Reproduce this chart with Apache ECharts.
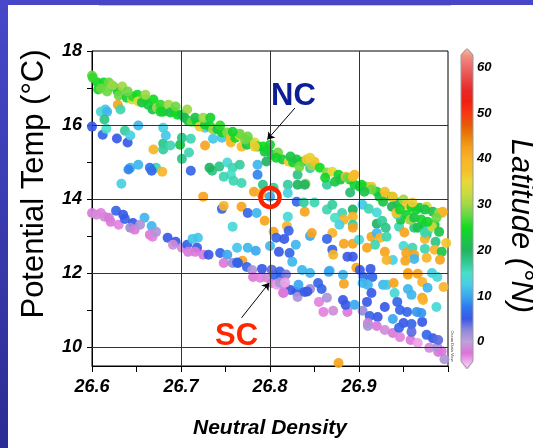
<!DOCTYPE html>
<html>
<head>
<meta charset="utf-8">
<script src="https://cdn.jsdelivr.net/npm/echarts@6/dist/echarts.min.js"></script>
<style>
  html, body { margin: 0; padding: 0; }
  body { width: 533px; height: 448px; position: relative; overflow: hidden; background: #ffffff; }
  #frameTop { position: absolute; left: 0; top: 0; width: 533px; height: 5px; background: #4646c6; }
  #frameLeft { position: absolute; left: 0; top: 0; width: 8px; height: 448px; background: linear-gradient(#4848ca, #2c2c94); }
  #rule { position: absolute; left: 99px; top: 5px; width: 352px; height: 1px; background: #c4c4ee; }
  #chart { position: absolute; left: 0; top: 0; width: 533px; height: 448px; }
</style>
</head>
<body>
<div id="frameTop"></div>
<div id="frameLeft"></div>
<div id="rule"></div>
<div id="chart"></div>
<script>
// Each sample: [neutral density, potential temperature (°C), latitude (°N)]

// Upper (northern-source) band
const ncBand = [
  [26.600,17.34,28],[26.606,17.15,24],[26.613,17.15,25],[26.619,17.15,28],[26.607,16.96,24],
  [26.617,16.91,28],[26.624,17.04,24],[26.629,16.91,24],[26.634,17.04,30],[26.630,16.80,28],
  [26.639,16.74,24],[26.645,16.69,33],[26.646,16.77,26],[26.651,16.82,25],[26.652,16.64,34],
  [26.656,16.61,22],[26.660,16.69,24],[26.663,16.55,23],[26.669,16.69,25],[26.668,16.42,22],
  [26.673,16.47,30],[26.677,16.55,26],[26.680,16.36,22],[26.686,16.55,30],[26.688,16.34,22],
  [26.692,16.36,24],[26.696,16.28,25],[26.701,16.28,22],[26.707,16.42,30],[26.704,16.20,20],
  [26.708,16.12,22],[26.712,16.09,28],[26.718,16.07,24],[26.721,15.96,36],[26.727,16.01,23],
  [26.733,15.96,24],[26.736,15.88,30],[26.741,15.88,22],[26.746,15.80,24],[26.752,15.80,29],
  [26.756,15.64,38],[26.761,15.66,25],[26.766,15.72,35],[26.774,15.47,22],[26.777,15.55,26],
  [26.783,15.53,34],[26.786,15.42,24],[26.792,15.42,25],[26.794,15.28,22],[26.766,15.77,28],
  [26.775,15.69,28],[26.783,15.42,36],[26.797,15.34,24],[26.802,15.20,22],[26.809,15.26,28],
  [26.814,15.07,23],[26.821,15.01,36],[26.826,14.99,24],[26.830,15.07,22],[26.836,15.01,24],
  [26.841,15.07,37],[26.847,14.91,30],[26.850,15.01,38],[26.856,14.85,25],[26.864,14.72,29],
  [26.870,14.74,35],[26.877,14.66,24],[26.879,14.53,22],[26.885,14.61,38],[26.890,14.53,23],
  [26.895,14.66,40],[26.895,14.39,24],[26.901,14.34,22],[26.909,14.34,30],[26.914,14.34,37],
  [26.920,14.20,24],[26.923,14.07,22],[26.931,14.09,36],[26.937,14.07,25],[26.943,13.91,22],
  [26.950,13.99,30],[26.954,13.85,37],[26.959,13.80,24],[26.968,13.77,22],[26.976,13.80,33],
  [26.983,13.66,22],[26.990,13.63,30],[26.994,13.66,40],[26.839,14.39,20],[26.890,14.18,19],
  [26.927,13.93,22],[26.942,13.63,37],[26.954,13.58,24],[26.958,13.45,30],[26.962,13.50,22],
  [26.970,13.45,24],[26.982,13.26,33],[26.987,13.50,28],[26.990,13.12,22],[26.887,14.58,28],
  [26.903,14.39,24],[26.914,14.26,28],[26.938,14.07,37],[26.929,14.20,38],[26.964,13.72,24],
  [26.974,13.72,22],[26.960,13.91,36],[26.893,14.61,38],[26.601,17.28,26],[26.610,16.99,28],
  [26.623,17.07,30],[26.640,16.91,28],[26.660,16.82,30],[26.677,16.36,24],[26.694,16.50,28],
  [26.716,16.20,22],[26.725,16.20,30],[26.744,15.99,26],[26.758,15.82,24],[26.772,15.61,28],
  [26.800,15.47,24],[26.807,15.12,24],[26.823,15.15,22],[26.833,14.88,28],[26.845,15.12,36],
  [26.862,14.58,24],[26.873,14.47,22],[26.906,14.20,22],[26.946,13.72,24],[26.977,13.39,24],
  [26.733,16.20,24]
];

// Lower (southern-source) band
const scBand = [
  [26.600,13.63,-2],[26.605,13.58,-1],[26.610,13.63,-3],[26.614,13.53,-1],[26.619,13.50,-2],
  [26.627,13.69,6],[26.621,13.39,-2],[26.630,13.31,-3],[26.637,13.47,6],[26.635,13.58,5],
  [26.646,13.36,5],[26.643,13.23,2],[26.648,13.18,-2],[26.659,13.50,11],[26.667,13.28,11],
  [26.654,13.31,1],[26.665,13.04,-2],[26.668,12.99,-3],[26.672,13.12,1],[26.685,12.96,5],
  [26.694,12.85,5],[26.691,12.77,-1],[26.701,12.69,-1],[26.707,12.77,6],[26.708,12.58,-2],
  [26.713,12.93,12],[26.719,12.96,12],[26.718,12.69,5],[26.716,12.58,-2],[26.725,12.50,-2],
  [26.731,12.50,5],[26.744,12.55,6],[26.752,12.50,10],[26.748,12.28,-2],[26.758,12.28,2],
  [26.764,12.28,5],[26.774,12.17,6],[26.780,12.09,1],[26.781,11.90,-2],[26.789,11.88,-3],
  [26.791,12.12,5],[26.797,11.88,-1],[26.802,11.74,-2],[26.808,11.69,-4],[26.812,11.90,5],
  [26.817,11.63,-1],[26.805,11.96,6],[26.823,11.55,5],[26.815,11.47,-2],[26.830,11.50,5],
  [26.831,11.36,1],[26.832,11.69,10],[26.839,11.50,5],[26.845,11.58,2],[26.854,11.74,6],
  [26.858,11.58,6],[26.855,11.23,-3],[26.864,11.34,1],[26.871,10.99,-1],[26.887,10.96,-2],
  [26.882,11.28,5],[26.885,11.15,5],[26.895,11.15,10],[26.904,10.99,2],[26.909,11.23,5],
  [26.912,10.85,6],[26.921,10.82,5],[26.910,10.66,-2],[26.920,10.58,-2],[26.929,10.47,-1],
  [26.938,10.39,-2],[26.946,10.28,-3],[26.958,10.20,-2],[26.966,10.12,-4],[26.979,9.99,-1],
  [26.989,9.88,-2],[26.988,10.01,1],[26.983,10.25,5],[26.989,10.20,4],[26.976,10.34,6],
  [26.950,10.66,5],[26.959,10.63,6],[26.971,10.69,5],[26.959,10.42,4],[26.945,10.53,6],
  [26.938,10.77,10],[26.929,11.09,5],[26.946,11.01,6],[26.954,10.96,6],[26.965,10.96,9],
  [26.970,10.93,9],[26.943,11.23,6],[26.996,9.68,1],[26.910,10.58,1],[26.860,10.96,-3],
  [26.763,12.29,6],[26.802,12.10,4],[26.811,12.05,6],[26.818,11.97,3],[26.811,11.75,1],
  [26.817,11.75,-4],[26.815,11.48,-2],[26.842,11.51,5],[26.993,9.90,-2]
];

// Scattered samples between the two bands
const interior = [
  [26.615,16.42,12],[26.610,16.36,14],[26.617,16.36,11],[26.629,16.55,42],[26.632,16.42,16],
  [26.614,16.15,18],[26.612,15.74,6],[26.616,15.90,15],[26.628,15.64,5],[26.640,15.53,5],
  [26.637,15.85,17],[26.643,15.72,13],[26.652,15.99,11],[26.669,15.34,40],[26.680,15.50,18],
  [26.680,15.34,17],[26.688,15.45,16],[26.683,15.72,12],[26.680,15.93,13],[26.699,15.47,22],
  [26.701,15.66,18],[26.701,15.09,18],[26.711,15.63,16],[26.709,15.26,16],[26.643,14.85,11],
  [26.652,14.93,11],[26.672,14.85,16],[26.667,14.77,6],[26.679,14.74,40],[26.711,14.77,6],
  [26.735,14.77,18],[26.743,14.88,18],[26.752,14.99,14],[26.758,14.85,16],[26.766,14.93,17],
  [26.756,14.66,15],[26.786,14.93,11],[26.786,14.66,8],[26.727,15.93,13],[26.736,15.63,12],
  [26.727,15.45,42],[26.756,15.53,40],[26.768,15.42,38],[26.746,15.66,12],[26.633,14.42,13],
  [26.641,14.80,8],[26.665,14.85,7],[26.732,14.85,20],[26.748,14.61,16],[26.759,14.50,16],
  [26.768,14.44,16],[26.792,14.39,18],[26.804,14.31,17],[26.820,14.39,17],[26.831,14.39,20],
  [26.820,14.17,13],[26.782,14.20,42],[26.790,14.15,40],[26.800,14.07,10],[26.725,14.07,42],
  [26.830,13.93,6],[26.839,13.66,42],[26.746,13.74,6],[26.748,13.82,40],[26.768,13.80,42],
  [26.775,13.63,6],[26.785,13.63,11],[26.794,13.42,42],[26.820,13.53,14],[26.819,13.28,40],
  [26.804,13.12,42],[26.758,13.26,14],[26.807,12.96,6],[26.816,12.93,5],[26.821,13.15,6],
  [26.775,12.69,11],[26.763,12.69,12],[26.800,12.74,11],[26.810,12.58,5],[26.822,12.55,6],
  [26.829,12.77,11],[26.784,12.61,10],[26.769,12.34,42],[26.838,13.91,17],[26.850,13.91,16],
  [26.864,13.72,16],[26.870,13.85,17],[26.893,13.72,20],[26.881,13.63,16],[26.873,13.50,15],
  [26.893,13.53,40],[26.883,13.45,40],[26.878,13.31,13],[26.893,13.31,17],[26.893,13.23,42],
  [26.904,13.85,12],[26.911,13.74,16],[26.920,13.34,20],[26.926,13.42,17],[26.930,13.23,18],
  [26.870,13.09,40],[26.864,12.93,6],[26.845,13.01,10],[26.847,13.09,42],[26.870,12.64,6],
  [26.871,12.50,40],[26.887,12.45,5],[26.893,12.45,5],[26.883,12.80,42],[26.893,12.80,42],
  [26.900,12.91,14],[26.914,12.99,42],[26.920,13.09,11],[26.924,12.96,40],[26.931,12.99,16],
  [26.918,12.77,16],[26.909,12.69,42],[26.945,13.26,16],[26.962,13.23,18],[26.973,13.28,22],
  [26.976,13.04,18],[26.985,13.31,22],[26.986,12.85,18],[26.974,12.93,40],[26.985,12.64,40],
  [26.950,12.74,14],[26.960,12.69,16],[26.953,12.55,42],[26.962,12.50,42],[26.974,12.66,16],
  [26.976,12.42,40],[26.962,12.39,11],[26.952,12.34,42],[26.938,12.36,13],[26.929,12.58,42],
  [26.931,12.36,40],[26.897,12.15,42],[26.901,12.09,5],[26.913,12.12,5],[26.905,11.90,6],
  [26.915,11.90,6],[26.910,11.69,11],[26.955,11.96,42],[26.966,11.99,42],[26.971,11.77,40],
  [26.982,12.01,13],[26.988,11.90,14],[26.867,12.07,11],[26.882,11.96,11],[26.845,12.01,11],
  [26.883,11.72,42],[26.825,12.31,11],[26.836,12.09,11],[26.866,12.04,10],[26.904,11.74,11],
  [26.914,11.47,5],[26.927,11.69,11],[26.931,11.69,12],[26.939,11.74,42],[26.940,11.47,14],
  [26.955,11.58,11],[26.959,11.42,11],[26.971,11.34,42],[26.977,11.61,11],[26.987,11.09,14],
  [26.877,9.58,42],[26.993,13.63,40],[26.998,12.82,37],[26.993,12.58,22],[26.947,13.45,22],
  [26.957,13.45,37],[26.966,13.23,22],[26.978,13.18,16],[26.955,12.01,42],[26.972,11.28,40],
  [26.995,11.63,40],[26.600,15.96,5],[26.920,13.64,14],[26.937,13.80,20],[26.943,13.59,16],
  [26.951,13.10,42],[26.974,13.10,16],[26.991,12.37,42],[26.796,15.02,20],[26.840,14.42,30],
  [26.864,14.39,17],[26.831,14.66,18],[26.845,14.84,17]
];

// Axis ticks and labels
const xTickValues = [26.6, 26.65, 26.7, 26.75, 26.8, 26.85, 26.9, 26.95, 27.0];
const xLabelValues = [26.6, 26.7, 26.8, 26.9];
const xGridValues = [26.7, 26.8, 26.9];
const yTickValues = [10, 11, 12, 13, 14, 15, 16, 17, 18];
const yLabelValues = [10, 12, 14, 16, 18];
const yGridValues = [10, 12, 14, 16];
const colorTicks = [0, 10, 20, 30, 40, 50, 60];

// Latitude colour scale (evenly spaced stops)
const latStops = [-5, -2.5, 0, 2.5, 5, 7.5, 10, 12.5, 15, 17.5, 20, 22.5, 25, 27.5, 30,
                  32.5, 35, 37.5, 40, 42.5, 45, 47.5, 50, 52.5, 55, 57.5, 60, 62.5, 65];
const latColors = ['#f0c4f0', '#e070da', '#c0a0d8', '#9088d8', '#3a58e6', '#2e78ee', '#3aa8f0',
                   '#48cce8', '#48e0c8', '#30c890', '#20b460', '#18c840', '#10dc20', '#60d840',
                   '#a0d848', '#c8dc40', '#e8d838', '#f4c028', '#f8b428', '#f5a01a', '#e88008',
                   '#e85808', '#f83810', '#f02010', '#e82828', '#e84848', '#ec6868', '#f09080',
                   '#f6b8a0'];

// Annotations
const ncArrow = [[26.828, 16.46], [26.797, 15.61]];
const scArrow = [[26.768, 10.80], [26.799, 11.74]];
const markerAt = [26.8, 14.05];

const cbMin = -6, cbMax = 64;
const cbStops = latStops.map((v, i) => ({
  offset: Math.min(1, Math.max(0, (v - cbMin) / (cbMax - cbMin))),
  color: latColors[i]
}));

const FONT = '"Liberation Sans", Arial, Helvetica, sans-serif';
const tickFont = { color: '#000', fontFamily: FONT, fontWeight: 'bold', fontStyle: 'italic' };

const chart = echarts.init(document.getElementById('chart'), null, { renderer: 'canvas' });

const dotStyle = { opacity: 0.92 };
const dotSize = 10;

chart.setOption({
  animation: false,
  backgroundColor: 'transparent',
  grid: [
    { left: 92, top: 51, width: 356, height: 315, show: true, borderColor: '#000', borderWidth: 1, backgroundColor: 'transparent' },
    { left: 461, top: 49.2, width: 12, height: 319.9, show: true, borderWidth: 0,
      backgroundColor: new echarts.graphic.LinearGradient(0, 1, 0, 0, cbStops) }
  ],
  xAxis: [
    {
      gridIndex: 0, type: 'value', min: 26.6, max: 27.0,
      axisLine: { lineStyle: { color: '#000', width: 1 } },
      axisTick: { customValues: xTickValues, length: 6, lineStyle: { color: '#000' } },
      axisLabel: Object.assign({ customValues: xLabelValues, fontSize: 18, margin: 12,
        formatter: v => v.toFixed(1) }, tickFont),
      splitLine: { show: false }
    },
    { gridIndex: 1, type: 'value', show: false, min: 0, max: 1 }
  ],
  yAxis: [
    {
      gridIndex: 0, type: 'value', min: 9.5, max: 18,
      axisLine: { lineStyle: { color: '#000', width: 1 } },
      axisTick: { customValues: yTickValues, length: 5, lineStyle: { color: '#000' } },
      axisLabel: Object.assign({ customValues: yLabelValues, fontSize: 18, margin: 10 }, tickFont),
      splitLine: { show: false }
    },
    {
      gridIndex: 1, type: 'value', min: cbMin, max: cbMax, position: 'right',
      axisLine: { show: false }, axisTick: { show: false }, splitLine: { show: false },
      axisLabel: Object.assign({ customValues: colorTicks, fontSize: 13, margin: 4 }, tickFont)
    }
  ],
  visualMap: {
    show: false, type: 'continuous', seriesIndex: [0, 1, 2], dimension: 2,
    min: -5, max: 65, inRange: { color: latColors }
  },
  series: [
    { name: 'interior', type: 'scatter', data: interior, symbolSize: dotSize, itemStyle: dotStyle, z: 3 },
    { name: 'SC', type: 'scatter', data: scBand, symbolSize: dotSize, itemStyle: dotStyle, z: 3 },
    { name: 'NC', type: 'scatter', data: ncBand, symbolSize: dotSize, itemStyle: dotStyle, z: 3 },
    {
      name: 'grid', type: 'scatter', data: [], z: 2, silent: true,
      markLine: {
        silent: true, symbol: ['none', 'none'], label: { show: false },
        lineStyle: { color: '#333', width: 1, type: 'solid' },
        data: xGridValues.map(v => ({ xAxis: v })).concat(yGridValues.map(v => ({ yAxis: v })))
      }
    },
    {
      name: 'arrows', type: 'scatter', data: [], z: 6, silent: true,
      markLine: {
        silent: true, symbol: ['none', 'arrow'], symbolSize: 7, label: { show: false },
        lineStyle: { color: '#000', width: 1, type: 'solid' },
        data: [
          [{ coord: ncArrow[0] }, { coord: ncArrow[1] }],
          [{ coord: scArrow[0] }, { coord: scArrow[1] }]
        ]
      }
    },
    {
      name: 'marker', type: 'scatter', z: 7, silent: true,
      data: [markerAt], symbol: 'circle', symbolSize: 19,
      itemStyle: { color: 'rgba(0,0,0,0)', borderColor: '#ff2200', borderWidth: 4.5, opacity: 1 }
    }
  ],
  graphic: {
    elements: [
      { type: 'text', x: 34, y: 184, rotation: Math.PI / 2, z: 100,
        style: { text: 'Potential Temp (°C)', fontFamily: FONT, fontSize: 31, fill: '#000',
                 align: 'center', verticalAlign: 'middle' } },
      { type: 'text', x: 521, y: 226, rotation: -Math.PI / 2, z: 100,
        style: { text: 'Latitude (°N)', fontFamily: FONT, fontSize: 31, fontStyle: 'italic', fill: '#000',
                 align: 'center', verticalAlign: 'middle' } },
      { type: 'text', x: 270, y: 428, z: 100,
        style: { text: 'Neutral Density', fontFamily: FONT, fontSize: 21, fontWeight: 'bold', fontStyle: 'italic',
                 fill: '#000', align: 'center', verticalAlign: 'middle' } },
      { type: 'text', x: 293.5, y: 96, z: 100,
        style: { text: 'NC', fontFamily: FONT, fontSize: 31, fontWeight: 'bold', fill: '#0c1e98',
                 align: 'center', verticalAlign: 'middle' } },
      { type: 'text', x: 236.5, y: 336.5, z: 100,
        style: { text: 'SC', fontFamily: FONT, fontSize: 31, fontWeight: 'bold', fill: '#ff2600',
                 align: 'center', verticalAlign: 'middle' } },
      { type: 'text', x: 452, y: 346, rotation: -Math.PI / 2, z: 100,
        style: { text: 'Ocean Data View', fontFamily: FONT, fontSize: 4, fill: '#444',
                 align: 'center', verticalAlign: 'middle' } },
      // pointed ends of the colour bar
      { type: 'polygon', z: 100, shape: { points: [[460, 48], [460, 55.5], [466.5, 48]] }, style: { fill: '#fff' } },
      { type: 'polygon', z: 100, shape: { points: [[474, 48], [474, 55.5], [467.5, 48]] }, style: { fill: '#fff' } },
      { type: 'polygon', z: 100, shape: { points: [[460, 370], [460, 361], [466.5, 370]] }, style: { fill: '#fff' } },
      { type: 'polygon', z: 100, shape: { points: [[474, 370], [474, 361], [467.5, 370]] }, style: { fill: '#fff' } },
      { type: 'polygon', z: 101,
        shape: { points: [[461, 55], [467, 48.5], [473, 55], [473, 361], [467, 368.5], [461, 361]] },
        style: { fill: 'none', stroke: '#9a9a9a', lineWidth: 1 } }
    ]
  }
});
</script>
</body>
</html>
